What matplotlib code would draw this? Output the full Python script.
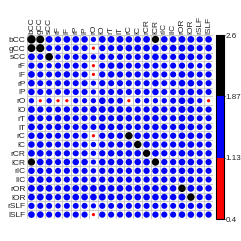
import numpy as np
import matplotlib
matplotlib.use("Agg")
import matplotlib.pyplot as plt
from matplotlib.patches import Circle
from matplotlib.colors import ListedColormap, BoundaryNorm
from matplotlib.cm import ScalarMappable

plt.rcParams['font.family'] = ['Liberation Sans', 'DejaVu Sans']

labels = ["bCC", "gCC", "sCC", "rF", "lF", "rP", "lP", "rO", "lO", "rT", "lT",
          "rC", "lC", "rCR", "lCR", "rIC", "lIC", "rOR", "lOR", "rSLF", "lSLF"]

# upper triangle, row i holds columns i..20
upper = [
    [2.6, 2.3, 1.8, 1.6, 1.8, 1.75, 1.7, 1.25, 1.8, 1.8, 1.8, 1.7, 1.7, 1.8, 2.0, 1.7, 1.7, 1.8, 1.8, 1.6, 1.75],
    [2.4, 1.55, 1.5, 1.55, 1.5, 1.55, 0.72, 1.6, 1.6, 1.6, 1.75, 1.75, 1.75, 1.75, 1.6, 1.75, 1.8, 1.8, 1.55, 1.75],
    [2.2, 1.3, 1.5, 1.5, 1.5, 1.3, 1.55, 1.55, 1.55, 1.55, 1.55, 1.55, 1.75, 1.55, 1.55, 1.8, 1.8, 1.5, 1.55],
    [1.55, 1.6, 1.55, 1.5, 0.72, 1.5, 1.7, 1.7, 1.55, 1.55, 1.6, 1.55, 1.5, 1.55, 1.6, 1.6, 1.3, 1.5],
    [1.7, 1.55, 1.55, 0.72, 1.6, 1.7, 1.6, 1.6, 1.6, 1.6, 1.7, 1.55, 1.55, 1.75, 1.75, 1.5, 1.6],
    [1.55, 1.55, 1.25, 1.6, 1.55, 1.55, 1.55, 1.55, 1.55, 1.7, 1.5, 1.55, 1.75, 1.75, 1.5, 1.55],
    [1.55, 1.25, 1.55, 1.55, 1.55, 1.55, 1.55, 1.55, 1.7, 1.5, 1.55, 1.75, 1.75, 1.5, 1.55],
    [1.25, 1.75, 1.5, 1.5, 0.72, 1.3, 1.3, 1.25, 1.3, 1.5, 1.75, 1.75, 1.25, 0.72],
    [1.8, 1.75, 1.75, 1.6, 1.6, 1.6, 1.75, 1.6, 1.6, 1.85, 1.85, 1.55, 1.6],
    [1.6, 1.7, 1.7, 1.6, 1.7, 1.7, 1.55, 1.6, 1.75, 1.75, 1.5, 1.55],
    [1.65, 1.6, 1.6, 1.6, 1.7, 1.55, 1.6, 1.75, 1.75, 1.5, 1.55],
    [2.1, 1.7, 1.7, 1.7, 1.6, 1.6, 1.75, 1.75, 1.55, 1.6],
    [2.1, 1.7, 1.7, 1.6, 1.6, 1.75, 1.75, 1.55, 1.6],
    [2.05, 1.75, 1.6, 1.6, 1.75, 1.75, 1.55, 1.6],
    [2.05, 1.6, 1.6, 1.75, 1.75, 1.55, 1.6],
    [1.6, 1.6, 1.7, 1.7, 1.5, 1.55],
    [1.6, 1.7, 1.7, 1.5, 1.55],
    [2.1, 1.85, 1.6, 1.7],
    [2.1, 1.6, 1.7],
    [1.5, 1.55],
    [1.6],
]

bounds = [0.4, 1.13, 1.87, 2.6]
tick_labels = ["0.4", "1.13", "1.87", "2.6"]
cmap = ListedColormap(["#FF0000", "#0000FF", "#000000"])
norm = BoundaryNorm(bounds, cmap.N)

n = len(labels)
mat = np.zeros((n, n))
for i, row in enumerate(upper):
    for k, v in enumerate(row):
        mat[i, i + k] = v
        mat[i + k, i] = v

fig = plt.figure(figsize=(2.41, 2.41), dpi=100)
ax = fig.add_axes([27 / 241, 1 - 219 / 241, 186 / 241, 184 / 241])

for i in range(n):
    for j in range(n):
        v = mat[i, j]
        r = 0.48 * np.sqrt((v - 0.4) / 2.2)
        ax.add_patch(Circle((j, i), r, color=cmap(norm(v)), lw=0))

for k in range(n + 1):
    ax.axhline(k - 0.5, color="#CCCCCC", lw=0.8, zorder=0)
    ax.axvline(k - 0.5, color="#CCCCCC", lw=0.8, zorder=0)

ax.set_xlim(-0.5, n - 0.5)
ax.set_ylim(n - 0.5, -0.5)
ax.set_xticks(range(n))
ax.set_yticks(range(n))
ax.set_xticklabels(labels, rotation=90, fontsize=6, color="#222222")
ax.set_yticklabels(labels, fontsize=6, color="#222222")
ax.xaxis.tick_top()
ax.tick_params(length=0, pad=1)
for s in ax.spines.values():
    s.set_visible(False)

cax = fig.add_axes([216 / 241, 1 - 219 / 241, 8 / 241, 184 / 241])
sm = ScalarMappable(norm=norm, cmap=cmap)
cb = fig.colorbar(sm, cax=cax, ticks=bounds)
cb.ax.set_yticklabels(tick_labels, fontsize=5.8, color="#222222")
cb.ax.tick_params(length=1, width=0.6, pad=0)
cb.outline.set_linewidth(0.8)

fig.savefig("out.png", dpi=100)
